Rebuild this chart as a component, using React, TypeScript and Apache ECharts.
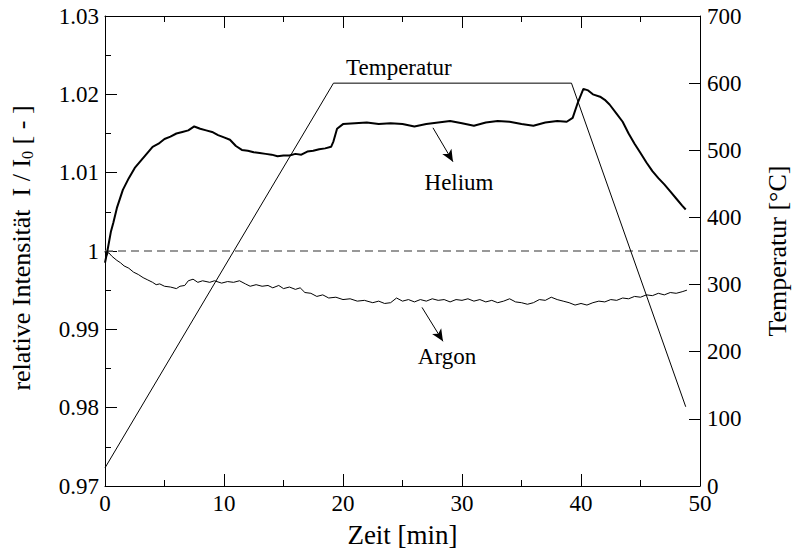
import React, { useEffect, useRef } from "react";
import * as echarts from "echarts";

const xTicks = [0, 10, 20, 30, 40, 50];

const heliumT = [0, 0.2, 0.5, 0.7, 1.0, 1.5, 2.0, 2.5, 3.0, 3.5, 4.0, 4.5, 5.0, 5.5, 6.0, 6.5, 7.0, 7.5, 8.0, 8.5, 9.0, 9.5, 10.0, 10.5, 11.0, 11.5, 12.0, 12.5, 13.0, 13.5, 14.0, 14.5, 15.0, 15.5, 16.0, 16.5, 17.0, 17.5, 18.0, 18.5, 19.0, 19.2, 19.5, 20.0, 21, 22, 23, 24, 25, 26, 27, 28, 29, 30, 31, 32, 33, 34, 35, 36, 37, 38, 38.8, 39.3, 39.7, 40.2, 40.6, 41.0, 41.6, 42.0, 42.4, 43.0, 43.5, 44.0, 44.5, 45.0, 45.5, 46.0, 46.5, 47.0, 47.5, 48.0, 48.5, 48.8];
const heliumV = [0.9985, 1.0, 1.0025, 1.0036, 1.0055, 1.0078, 1.0093, 1.0106, 1.0115, 1.0124, 1.0133, 1.0137, 1.0143, 1.0146, 1.015, 1.0152, 1.0154, 1.0159, 1.0156, 1.0154, 1.0152, 1.0148, 1.0145, 1.0142, 1.0134, 1.0129, 1.0128, 1.0126, 1.0125, 1.0124, 1.0123, 1.0121, 1.0122, 1.0122, 1.0124, 1.0123, 1.0127, 1.0128, 1.013, 1.0131, 1.0133, 1.014, 1.0156, 1.0162, 1.0163, 1.0164, 1.0162, 1.0163, 1.0162, 1.0159, 1.0162, 1.0164, 1.0166, 1.0163, 1.016, 1.0164, 1.0166, 1.0165, 1.0162, 1.016, 1.0164, 1.0166, 1.0165, 1.017, 1.0188, 1.0207, 1.0205, 1.02, 1.0197, 1.0193, 1.0187, 1.0175, 1.0165, 1.015, 1.0137, 1.0125, 1.0113, 1.0102, 1.0093, 1.0085, 1.0076, 1.0067, 1.0058, 1.0053];

const argonT = [0, 0.1, 0.3, 0.6, 1.0, 1.3, 1.6, 2.0, 2.4, 2.8, 3.2, 3.6, 4.0, 4.3, 4.6, 5.0, 5.5, 6.0, 6.3, 6.7, 7.0, 7.4, 7.8, 8.2, 8.8, 9.2, 9.8, 10.3, 10.8, 11.3, 11.8, 12.2, 12.7, 13.2, 13.7, 14.1, 14.6, 15.0, 15.5, 16.0, 16.4, 16.8, 17.3, 17.8, 18.3, 18.8, 19.4, 20.0, 20.6, 21.2, 21.8, 22.5, 23.0, 23.5, 24.0, 24.5, 25.0, 25.5, 26.0, 26.5, 27.0, 27.5, 28.0, 28.5, 29.0, 29.5, 30.0, 30.5, 31.0, 31.5, 32.0, 32.5, 33.0, 33.5, 34.0, 34.5, 35.0, 35.5, 36.0, 36.5, 37.0, 37.5, 38.0, 38.5, 39.0, 39.5, 40.0, 40.5, 41.0, 41.5, 42.0, 42.5, 43.0, 43.5, 44.0, 44.5, 45.0, 45.5, 46.0, 46.5, 47.0, 47.5, 48.0, 48.5, 48.9];
const argonV = [1.0, 0.9993, 0.9998, 0.9993, 0.9988, 0.9985, 0.9981, 0.9978, 0.9973, 0.997, 0.9966, 0.9963, 0.996, 0.9957, 0.9958, 0.9955, 0.9954, 0.9952, 0.9955, 0.9956, 0.9962, 0.9964, 0.996, 0.9962, 0.996, 0.9962, 0.9959, 0.9961, 0.996, 0.9962, 0.9958, 0.9955, 0.9957, 0.9955, 0.9956, 0.9953, 0.9956, 0.9952, 0.9954, 0.9951, 0.9953, 0.9947, 0.9946, 0.9942, 0.9944, 0.994, 0.9941, 0.9938, 0.9939, 0.9936, 0.9937, 0.9934, 0.9936, 0.9933, 0.9934, 0.994, 0.9936, 0.9938, 0.9935, 0.9938, 0.9936, 0.9939, 0.9937, 0.9938, 0.9935, 0.9938, 0.9937, 0.9939, 0.9936, 0.9938, 0.9935, 0.9937, 0.9934, 0.9936, 0.9939, 0.9935, 0.9934, 0.9932, 0.9934, 0.9938, 0.9937, 0.9941, 0.9938, 0.9936, 0.9934, 0.9931, 0.9933, 0.9931, 0.9934, 0.9936, 0.9935, 0.9938, 0.9937, 0.994, 0.9939, 0.9942, 0.9941, 0.9944, 0.9943, 0.9946, 0.9944, 0.9947, 0.9946, 0.9948, 0.995];

const tempT = [0, 19.2, 39.2, 48.8];
const tempV = [27, 600, 600, 118];

const refT = [0, 50];
const refV = [1, 1];

const FONT = "Liberation Serif";

export default function App() {
  const ref = useRef<HTMLDivElement>(null);
  useEffect(() => {
    if (!ref.current) return;
    const chart = echarts.init(ref.current, null, { renderer: "svg" });
    const zip = (a: number[], b: number[]) => a.map((v, i) => [v, b[i]]);
    const axisLine = { show: true, onZero: false, lineStyle: { color: "#000", width: 1 } };
    const serif = { fontFamily: FONT, fontSize: 23, color: "#000" };
    const rich = { s: serif };
    const fmtY = (v: number) => "{s|" + String(Math.round(v * 1000) / 1000) + "}";
    const fmtN = (v: number) => "{s|" + String(v) + "}";
    const annot = (text: string) => ({ show: true, position: "inside", formatter: "{s|" + text + "}", rich, ...serif });
    chart.setOption({
      animation: false,
      textStyle: { fontFamily: FONT },
      grid: { left: 105, right: 92, top: 16, bottom: 64, containLabel: false, outerBoundsMode: "none" },
      xAxis: [
        {
          type: "value", min: 0, max: 50, interval: 10, position: "bottom",
          axisLine,
          axisTick: { show: true, inside: true, length: 12, lineStyle: { color: "#000" } },
          minorTick: { show: true, splitNumber: 2, length: 6, lineStyle: { color: "#000" } },
          splitLine: { show: false },
          axisLabel: { ...serif, margin: 6, formatter: fmtN, rich },
          name: "Zeit [min]", nameLocation: "middle", nameGap: 35,
          nameTextStyle: { color: "#000", fontFamily: FONT, fontSize: 27 },
        },
        {
          type: "value", min: 0, max: 50, interval: 10, position: "top",
          axisLine,
          axisTick: { show: true, inside: true, length: 12, lineStyle: { color: "#000" } },
          minorTick: { show: true, splitNumber: 2, length: 6, lineStyle: { color: "#000" } },
          splitLine: { show: false },
          axisLabel: { show: false },
        },
      ],
      yAxis: [
        {
          type: "value", min: 0.97, max: 1.03, interval: 0.01, position: "left",
          axisLine,
          axisTick: { show: true, inside: true, length: 12, lineStyle: { color: "#000" } },
          minorTick: { show: true, splitNumber: 2, length: 6, lineStyle: { color: "#000" } },
          splitLine: { show: false },
          axisLabel: { ...serif, margin: 6, formatter: fmtY, rich },
          name: "relative Intensität  I / I{sub|0} [ - ]", nameLocation: "middle", nameGap: 70,
          nameTextStyle: {
            color: "#000", fontFamily: FONT, fontSize: 26, padding: [0, 0, 0, 6],
            rich: { sub: { fontSize: 16, fontFamily: FONT, color: "#000", padding: [12, 0, 0, 0] } },
          },
        },
        {
          type: "value", min: 0, max: 700, interval: 100, position: "right",
          axisLine,
          axisTick: { show: true, inside: true, length: 11, lineStyle: { color: "#000" } },
          splitLine: { show: false },
          axisLabel: { ...serif, margin: 7, formatter: fmtN, rich },
          name: "Temperatur [°C]", nameLocation: "middle", nameGap: 64, nameRotate: 90,
          nameTextStyle: { color: "#000", fontFamily: FONT, fontSize: 26 },
        },
      ],
      series: [
        {
          type: "line", name: "ref", data: zip(refT, refV), xAxisIndex: 0, yAxisIndex: 0,
          showSymbol: false, silent: true,
          lineStyle: { color: "#777", width: 1.5, type: [8, 5] },
        },
        {
          type: "line", name: "Temperatur", data: zip(tempT, tempV), xAxisIndex: 0, yAxisIndex: 1,
          showSymbol: false, silent: true,
          lineStyle: { color: "#000", width: 1 },
          markPoint: {
            silent: true, symbol: "circle", symbolSize: 0,
            data: [{ coord: [24.7, 623], label: annot("Temperatur") }],
          },
        },
        {
          type: "line", name: "Argon", data: zip(argonT, argonV), xAxisIndex: 0, yAxisIndex: 0,
          showSymbol: false, silent: true,
          lineStyle: { color: "#000", width: 1 },
          markPoint: {
            silent: true, symbol: "circle", symbolSize: 0,
            data: [{ coord: [28.74, 0.98656], label: annot("Argon") }],
          },
          markLine: {
            silent: true, symbol: ["none", "arrow"], symbolSize: [8, 12],
            label: { show: false },
            lineStyle: { color: "#000", width: 1, type: "solid" },
            data: [[{ coord: [26.64, 0.9928] }, { coord: [28.4, 0.98847] }]],
          },
        },
        {
          type: "line", name: "Helium", data: zip(heliumT, heliumV), xAxisIndex: 0, yAxisIndex: 0,
          showSymbol: false, silent: true,
          lineStyle: { color: "#000", width: 2 },
          markPoint: {
            silent: true, symbol: "circle", symbolSize: 0,
            data: [{ coord: [29.75, 1.00873], label: annot("Helium") }],
          },
          markLine: {
            silent: true, symbol: ["none", "arrow"], symbolSize: [8, 12],
            label: { show: false },
            lineStyle: { color: "#000", width: 1, type: "solid" },
            data: [[{ coord: [27.56, 1.01573] }, { coord: [29.24, 1.0114] }]],
          },
        },
      ],
    });
    return () => chart.dispose();
  }, []);
  return <div ref={ref} style={{ width: 792, height: 550, position: "absolute", left: 0, top: 0, background: "#fff" }} />;
}
